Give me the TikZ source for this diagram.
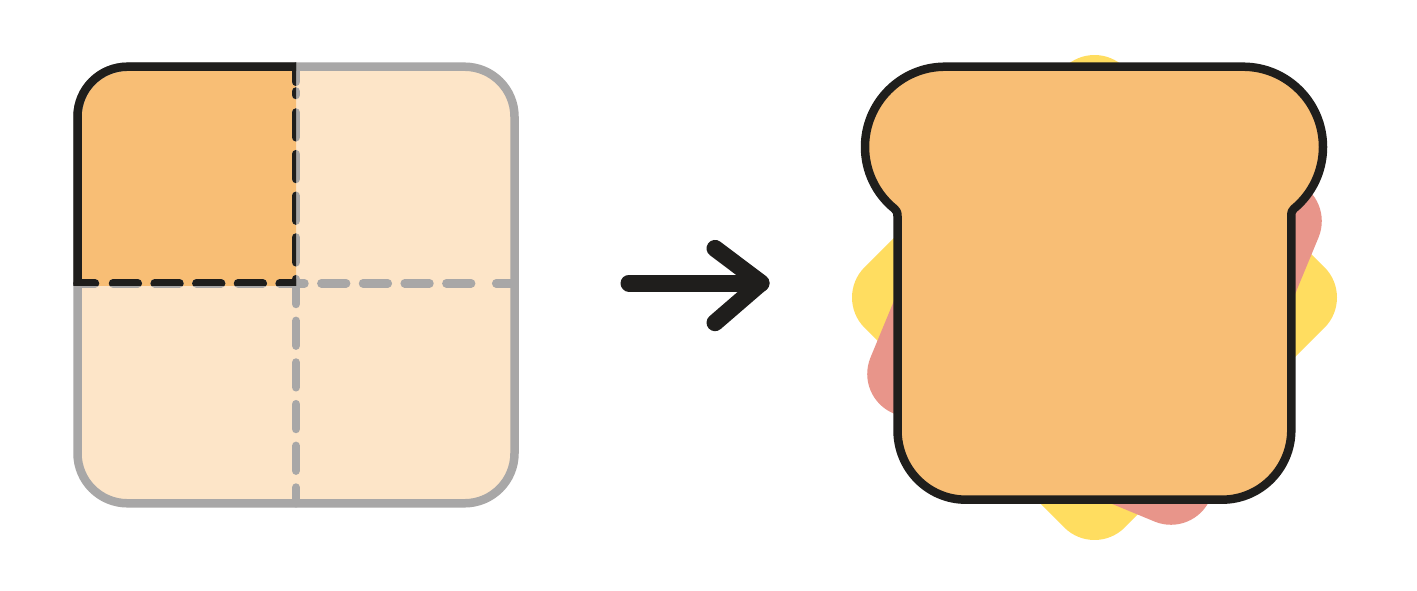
\documentclass[tikz,border=0pt]{standalone}
\definecolor{lightfill}{HTML}{FDE5C8}
\definecolor{orangefill}{HTML}{F8BE75}
\definecolor{greyline}{HTML}{A8A7A7}
\definecolor{inkline}{HTML}{1F1E1C}
\definecolor{yellowfill}{HTML}{FFDD60}
\definecolor{pinkfill}{HTML}{E8958A}
\tikzset{
  outline/.style={line width=8.5pt,line join=round},
  cutline/.style={line width=8.5pt,line cap=round},
  cutdash/.style={cutline,dash pattern=on 24.8pt off 16.87pt},
  squarecorners/.style={rounded corners=50pt},
  fillingsq/.style={rounded corners=42.8pt},
}
\newcommand{\squarepath}{(77.5,66.7) rectangle (514.5,503.3)}
\newcommand{\cutlines}[1]{%
  \draw[cutline,#1] (296,66.7) -- (296,81.8);
  \draw[cutline,#1] (296,91.5) -- (296,95);
  \draw[cutdash,#1] (296,112.5) -- (296,503.3);
  \draw[cutline,#1] (77.5,283.3) -- (95,283.3);
  \draw[cutdash,#1] (113,283.3) -- (487.7,283.3);
  \draw[cutline,#1] (496.2,283.3) -- (514.5,283.3);
}
\begin{document}
\begin{tikzpicture}[x=1pt,y=-1pt]
\useasboundingbox[fill=white] (0,0) rectangle (1417,591);
% left square
\fill[lightfill,squarecorners] \squarepath;
\begin{scope}
  \clip (70,60) rectangle (296,285);
  \fill[orangefill,squarecorners] \squarepath;
\end{scope}
\draw[greyline,outline,squarecorners] \squarepath;
\cutlines{greyline}
\begin{scope}
  \clip (70,60) rectangle (296,285);
  \draw[inkline,outline,squarecorners] \squarepath;
  \cutlines{inkline}
\end{scope}
% arrow
\draw[inkline,line width=17pt,line cap=round] (629,283) -- (761,283);
\draw[inkline,line width=17pt,line cap=round,line join=round] (715,248.4) -- (761,283) -- (715,322.7);
% fillings
\fill[yellowfill,fillingsq,shift={(1094.5,297.5)},rotate=45] (-184pt,-184pt) rectangle (184pt,184pt);
\fill[pinkfill,fillingsq,shift={(1094.5,297.5)},rotate=-22.5] (-184pt,-184pt) rectangle (184pt,184pt);
% bread
\draw[inkline,outline,fill=orangefill]
  (945,66.7) -- (1243,66.7)
  .. controls (1287.2,66.7) and (1323,102.8) .. (1323,147)
  .. controls (1323,170.8) and (1312.3,193.6) .. (1293.9,208.7)
  .. controls (1292,210.4) and (1291.3,212) .. (1291.3,216)
  -- (1291.3,430)
  .. controls (1291.3,468.4) and (1260.4,499.7) .. (1222,499.7)
  -- (966,499.7)
  .. controls (927.6,499.7) and (897.5,468.4) .. (897.5,430)
  -- (897.5,216)
  .. controls (897.5,212) and (896.3,210.4) .. (894.4,208.7)
  .. controls (875.7,193.6) and (865,170.8) .. (865,147)
  .. controls (865,102.8) and (900.8,66.7) .. (945,66.7) -- cycle;
\end{tikzpicture}
\end{document}
